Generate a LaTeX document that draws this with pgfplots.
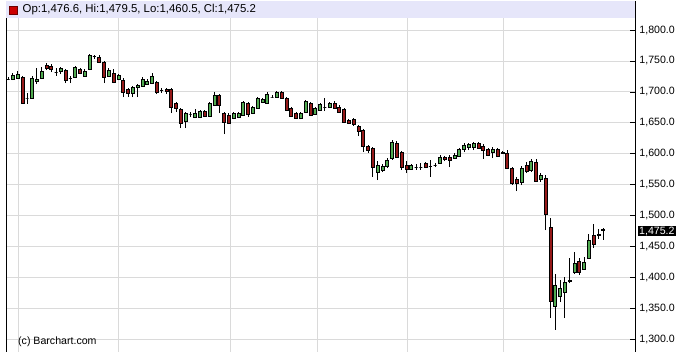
\documentclass[border=0pt]{standalone}
\usepackage{fontspec}
\setmainfont{Liberation Sans}
\usepackage{pgfplots}
\usepackage{pgfplotstable}
\pgfplotsset{compat=1.18}
\definecolor{cgreen}{RGB}{80,170,80}
\definecolor{cred}{RGB}{150,25,25}
\definecolor{bandc}{RGB}{230,230,250}
\definecolor{gridc}{RGB}{218,218,218}
\pgfdeclareplotmark{nothing}{}

\pgfplotstableread{
x o h l c
0 1720.7 1724.0 1719.1 1720.7
1 1720.7 1730.4 1719.1 1727.2
2 1722.3 1733.7 1720.7 1728.8
4 1690.0 1698.1 1680.3 1690.0
5 1690.0 1725.6 1688.4 1722.3
6 1717.5 1738.5 1712.6 1720.7
7 1722.3 1740.1 1720.7 1733.7
10 1732.0 1738.5 1725.6 1732.0
11 1733.7 1740.1 1728.8 1738.5
13 1722.3 1725.6 1714.2 1722.3
14 1724.0 1741.8 1722.3 1740.1
16 1725.6 1736.9 1724.0 1733.7
17 1736.9 1761.2 1735.3 1759.6
18 1757.9 1759.6 1753.1 1757.9
21 1725.6 1738.5 1724.0 1735.3
23 1720.7 1728.8 1719.1 1727.2
26 1698.1 1709.4 1691.6 1707.8
27 1707.8 1712.6 1691.6 1711.0
28 1709.4 1724.0 1707.8 1720.7
29 1712.6 1720.7 1711.0 1717.5
30 1714.2 1730.4 1712.6 1725.6
32 1702.9 1706.2 1698.1 1702.9
37 1652.8 1667.3 1641.4 1665.7
38 1664.1 1667.3 1659.2 1664.1
39 1659.2 1672.2 1657.6 1665.7
40 1659.2 1670.6 1657.6 1668.9
42 1660.9 1683.5 1659.2 1681.9
43 1678.7 1699.7 1677.0 1694.8
47 1657.6 1667.3 1656.0 1665.7
48 1659.2 1667.3 1657.6 1665.7
49 1662.5 1685.1 1660.9 1683.5
51 1665.7 1677.0 1664.1 1675.4
52 1673.8 1691.6 1672.2 1690.0
53 1683.5 1690.0 1681.9 1688.4
54 1681.9 1699.7 1680.3 1696.4
55 1691.6 1694.8 1690.0 1691.6
56 1691.6 1701.3 1690.0 1699.7
61 1657.6 1667.3 1656.0 1665.7
62 1667.3 1686.7 1665.7 1685.1
64 1664.1 1675.4 1662.5 1673.8
65 1670.6 1681.9 1668.9 1680.3
66 1675.4 1690.0 1668.9 1675.4
67 1675.4 1683.5 1673.8 1681.9
77 1570.2 1588.0 1557.3 1581.6
78 1573.5 1583.2 1570.2 1580.0
79 1580.0 1592.9 1576.7 1589.7
80 1592.9 1622.0 1589.7 1618.8
84 1575.1 1583.2 1573.5 1581.6
85 1578.3 1583.2 1573.5 1578.3
86 1578.3 1584.8 1573.5 1578.3
88 1580.0 1589.7 1562.2 1580.0
89 1581.6 1584.8 1578.3 1581.6
90 1584.8 1597.8 1583.2 1594.5
93 1592.9 1601.0 1591.3 1597.8
94 1596.1 1609.1 1594.5 1607.5
95 1607.5 1617.2 1602.6 1613.9
96 1610.7 1617.2 1605.8 1615.6
97 1610.7 1618.8 1605.8 1617.2
101 1602.6 1610.7 1592.9 1607.5
107 1554.1 1580.0 1549.2 1576.7
109 1573.5 1591.3 1570.2 1588.0
111 1558.9 1568.6 1554.1 1565.4
114 1353.4 1405.2 1314.8 1387.4
115 1369.6 1395.5 1359.9 1382.6
116 1376.1 1400.4 1334.0 1392.3
117 1393.9 1431.1 1390.6 1395.5
118 1408.4 1440.8 1405.2 1423.0
120 1413.3 1432.7 1411.7 1424.6
121 1431.1 1469.9 1429.5 1460.2
123 1468.3 1478.0 1461.8 1469.9
}\greendata

\pgfplotstableread{
x o h l c
3 1724.0 1725.6 1680.3 1681.9
8 1743.4 1746.6 1735.3 1738.5
9 1741.8 1745.0 1732.0 1736.9
12 1735.3 1736.9 1714.2 1719.1
15 1736.9 1738.5 1728.8 1730.4
19 1756.3 1759.6 1746.6 1748.2
20 1748.2 1749.8 1714.2 1724.0
22 1730.4 1736.9 1714.2 1715.9
24 1719.1 1722.3 1691.6 1699.7
25 1704.5 1706.2 1691.6 1698.1
31 1715.9 1717.5 1696.4 1699.7
33 1704.5 1706.2 1696.4 1701.3
34 1704.5 1706.2 1665.7 1675.4
35 1681.9 1683.5 1667.3 1673.8
36 1672.2 1673.8 1641.4 1649.5
41 1668.9 1670.6 1659.2 1660.9
44 1694.8 1696.4 1665.7 1678.7
45 1665.7 1667.3 1631.7 1651.1
46 1662.5 1665.7 1647.9 1649.5
50 1681.9 1683.5 1659.2 1664.1
57 1699.7 1701.3 1688.4 1690.0
58 1690.0 1691.6 1668.9 1670.6
59 1673.8 1675.4 1659.2 1660.9
60 1665.7 1667.3 1656.0 1657.6
63 1681.9 1683.5 1660.9 1662.5
68 1681.9 1685.1 1672.2 1673.8
69 1675.4 1678.7 1665.7 1667.3
70 1672.2 1673.8 1649.5 1651.1
71 1654.4 1656.0 1647.9 1649.5
72 1656.0 1657.6 1644.7 1647.9
73 1644.7 1646.3 1628.5 1636.6
74 1638.2 1639.8 1602.6 1612.3
75 1612.3 1613.9 1601.0 1605.8
76 1609.1 1610.7 1562.2 1578.3
81 1617.2 1620.4 1592.9 1594.5
82 1602.6 1604.2 1573.5 1578.3
83 1581.6 1588.0 1568.6 1575.1
87 1584.8 1586.4 1576.7 1578.3
91 1594.5 1596.1 1588.0 1591.3
92 1594.5 1597.8 1578.3 1589.7
98 1617.2 1618.8 1607.5 1609.1
99 1612.3 1615.6 1591.3 1605.8
100 1607.5 1609.1 1596.1 1597.8
102 1607.5 1609.1 1594.5 1596.1
103 1602.6 1604.2 1599.4 1601.0
104 1601.0 1605.8 1575.1 1576.7
105 1576.7 1578.3 1549.2 1552.4
106 1558.9 1562.2 1539.5 1552.4
108 1581.6 1586.4 1568.6 1571.9
110 1586.4 1591.3 1554.1 1555.7
112 1560.5 1565.4 1476.4 1502.3
113 1481.3 1495.8 1334.0 1361.5
119 1426.2 1431.1 1403.6 1408.4
122 1468.3 1486.1 1447.3 1453.7
124 1476.6 1479.5 1460.5 1475.2
}\reddata

\pgfplotsset{
  candle/.style={
    only marks, mark=nothing, scatter,
    visualization depends on={(\thisrow{h}-\thisrow{l})*0.618 \as \candH},
    visualization depends on={(\thisrow{o}-\thisrow{l})*0.618 \as \candO},
    visualization depends on={(\thisrow{c}-\thisrow{l})*0.618 \as \candC},
    scatter/@pre marker code/.code={%
      \draw[black, line width=0.9pt] (0pt,0pt) -- (0pt,\candH pt);
      \filldraw[fill=#1, draw=black, line width=0.8pt] (-1.5pt,\candO pt) rectangle (1.5pt,\candC pt);
    },
    scatter/@post marker code/.code={},
  },
}

\begin{document}
\begin{tikzpicture}
\useasboundingbox (0pt,0pt) rectangle (676pt,352pt);
\begin{axis}[
  at={(6pt,0pt)}, anchor=south west,
  x=4.8pt, y=0.618pt,
  xmin=-0.42, xmax=130.6, ymin=1279, ymax=1846.9,
  axis line style={black, line width=0.8pt},
  xtick={2.1,23.1,46.25,64.4,83.3,103.1}, xticklabels={},
  xtick style={draw=none},
  ytick={1300,1350,...,1800},
  ytick pos=right, yticklabel pos=right,
  tick align=inside, major tick length=5pt,
  ytick style={black, line width=0.6pt},
  scaled y ticks=false,
  grid=major, major grid style={gridc, line width=0.8pt},
  yticklabel style={font=\fontsize{10.6}{12}\selectfont, xshift=1pt,
    /pgf/number format/fixed, /pgf/number format/fixed zerofill,
    /pgf/number format/precision=1, /pgf/number format/1000 sep={,},
    /pgf/number format/assume math mode=true},
  clip=false,
]
\addplot[candle=cgreen] table[x=x, y=l] {\greendata};
\addplot[candle=cred] table[x=x, y=l] {\reddata};
\end{axis}
\fill[bandc] (6.4pt,334pt) rectangle (634.6pt,350.6pt);
\filldraw[fill={rgb,255:red,204;green,0;blue,0}, draw={rgb,255:red,110;green,0;blue,0}, line width=0.8pt] (9pt,338pt) rectangle (17pt,346pt);
\node[anchor=west, inner sep=0pt, font=\fontsize{11.4}{13}\selectfont] at (22.5pt,342pt) {Op:1,476.6, Hi:1,479.5, Lo:1,460.5, Cl:1,475.2};
\node[anchor=west, inner sep=0pt, font=\fontsize{10.6}{12}\selectfont] at (18pt,10.5pt) {(c) Barchart.com};
\node[anchor=west, fill=black, text=white, inner sep=1pt, font=\fontsize{10.6}{12}\selectfont] at (638pt,121pt) {1,475.2};
\end{tikzpicture}
\end{document}
